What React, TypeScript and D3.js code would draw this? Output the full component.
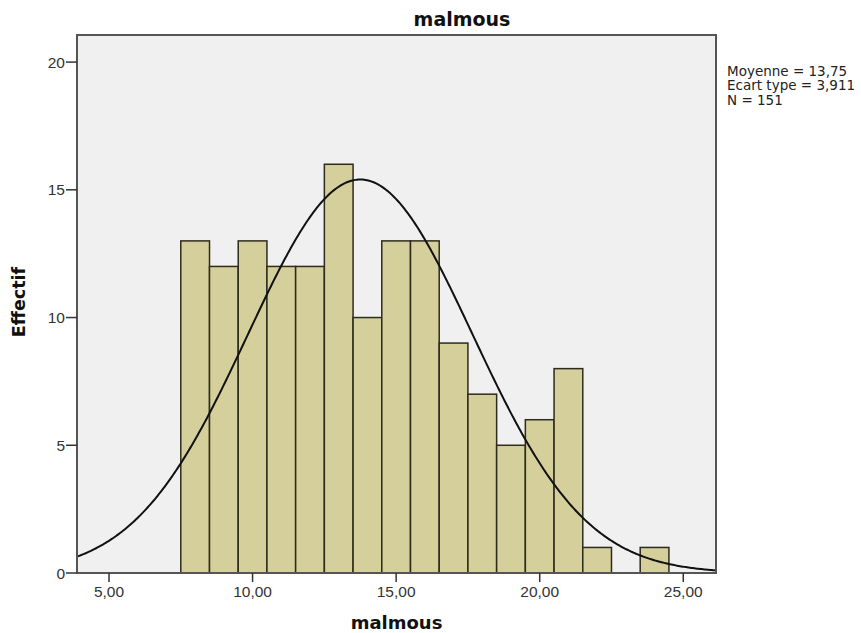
import React from "react";
import * as d3 from "d3";

// Histogram of "malmous" with fitted normal curve
const binCenters = [8, 9, 10, 11, 12, 13, 14, 15, 16, 17, 18, 19, 20, 21, 22, 23, 24];
const counts = [13, 12, 13, 12, 12, 16, 10, 13, 13, 9, 7, 5, 6, 8, 1, 0, 1];
const xTicks = [5, 10, 15, 20, 25];
const yTicks = [0, 5, 10, 15, 20];
const mean = 13.75;
const sd = 3.911;
const n = 151;
const binWidth = 1;
const statLines = ["Moyenne = 13,75", "Ecart type = 3,911", "N = 151"];

const W = 861;
const H = 633;
const plot = { left: 77, right: 716, top: 35, bottom: 573 };
const TICK_FONT = "'Liberation Sans', Arial, sans-serif";
const LABEL_FONT = "'DejaVu Sans', Verdana, sans-serif";

export default function App() {
  const x = d3.scaleLinear().domain([3.885, 26.14]).range([plot.left, plot.right]);
  const y = d3.scaleLinear().domain([0, 21.06]).range([plot.bottom, plot.top]);

  const pdf = (v: number) =>
    (n * binWidth * Math.exp(-((v - mean) ** 2) / (2 * sd * sd))) / (sd * Math.sqrt(2 * Math.PI));
  const curvePts = d3.range(3.885, 26.14 + 1e-9, 0.05).map((v) => [v, pdf(v)] as [number, number]);
  const line = d3
    .line<[number, number]>()
    .x((d) => x(d[0]))
    .y((d) => y(d[1]));

  const fmt = (v: number) => v.toFixed(2).replace(".", ",");

  return (
    <svg width={W} height={H} style={{ position: "absolute", left: 0, top: 0, background: "#fff" }}>
      <defs>
        <clipPath id="plotClip">
          <rect x={plot.left} y={plot.top} width={plot.right - plot.left} height={plot.bottom - plot.top} />
        </clipPath>
      </defs>
      <rect
        x={plot.left}
        y={plot.top}
        width={plot.right - plot.left}
        height={plot.bottom - plot.top}
        fill="#f0f0f0"
      />
      {binCenters.map((c, i) =>
        counts[i] > 0 ? (
          <rect
            key={c}
            x={x(c - binWidth / 2)}
            y={y(counts[i])}
            width={x(c + binWidth / 2) - x(c - binWidth / 2)}
            height={y(0) - y(counts[i])}
            fill="#d4cf9b"
            stroke="#2e2b1c"
            strokeWidth={1.5}
          />
        ) : null
      )}
      <path d={line(curvePts) || ""} fill="none" stroke="#111" strokeWidth={2} clipPath="url(#plotClip)" />
      <rect
        x={plot.left}
        y={plot.top}
        width={plot.right - plot.left}
        height={plot.bottom - plot.top}
        fill="none"
        stroke="#555"
        strokeWidth={2}
      />
      {/* y axis */}
      {yTicks.map((t) => (
        <g key={t}>
          <line x1={plot.left - 11} x2={plot.left} y1={y(t)} y2={y(t)} stroke="#333" strokeWidth={1.5} />
          <text
            x={plot.left - 12}
            y={y(t)}
            dy="0.36em"
            textAnchor="end"
            fontFamily={TICK_FONT}
            fontSize={15.5}
            fill="#333"
          >
            {t}
          </text>
        </g>
      ))}
      {/* x axis */}
      {xTicks.map((t) => (
        <g key={t}>
          <line x1={x(t)} x2={x(t)} y1={plot.bottom} y2={plot.bottom + 9} stroke="#333" strokeWidth={1.5} />
          <text
            x={x(t)}
            y={597}
            textAnchor="middle"
            fontFamily={TICK_FONT}
            fontSize={15.5}
            fill="#333"
          >
            {fmt(t)}
          </text>
        </g>
      ))}
      <text x={462} y={26} textAnchor="middle" fontFamily={LABEL_FONT} fontSize={19} fontWeight="bold" fill="#111">
        malmous
      </text>
      <text
        x={(plot.left + plot.right) / 2}
        y={629}
        textAnchor="middle"
        fontFamily={LABEL_FONT}
        fontSize={18}
        fontWeight="bold"
        fill="#111"
      >
        malmous
      </text>
      <text
        transform={`translate(25, 302) rotate(-90)`}
        textAnchor="middle"
        fontFamily={LABEL_FONT}
        fontSize={17.5}
        fontWeight="bold"
        fill="#111"
      >
        Effectif
      </text>
      {statLines.map((s, i) => (
        <text key={s} x={727} y={75.5 + i * 14.5} fontFamily={LABEL_FONT} fontSize={13.5} fill="#222">
          {s}
        </text>
      ))}
    </svg>
  );
}
